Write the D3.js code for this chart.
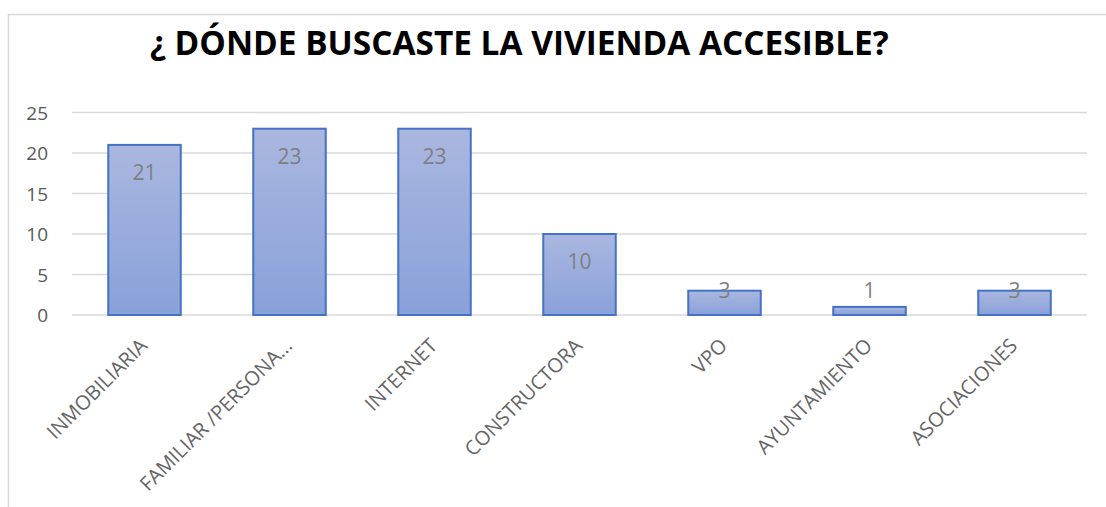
<!DOCTYPE html>
<html>
<head>
<meta charset="utf-8">
<script src="https://cdn.jsdelivr.net/npm/d3@7"></script>
<style>
  html, body { margin: 0; padding: 0; background: #fff; }
  svg { display: block; }
</style>
</head>
<body>
<svg id="chart" width="1106" height="507"></svg>
<script>
const title = "¿ DÓNDE BUSCASTE LA VIVIENDA ACCESIBLE?";
const categories = ["INMOBILIARIA", "FAMILIAR /PERSONA...", "INTERNET", "CONSTRUCTORA", "VPO", "AYUNTAMIENTO", "ASOCIACIONES"];
const values = [21, 23, 23, 10, 3, 1, 3];
const yTicks = [0, 5, 10, 15, 20, 25];

const svg = d3.select("#chart");
const W = 1106, H = 507;
const plot = { left: 72, right: 1087, top: 112.5, bottom: 315 };

// chart frame
svg.append("rect")
  .attr("x", 8.5).attr("y", 14.5)
  .attr("width", W + 20).attr("height", H + 20)
  .attr("fill", "#fff").attr("stroke", "#d9d9d9").attr("stroke-width", 1.5);

const defs = svg.append("defs");
const grad = defs.append("linearGradient")
  .attr("id", "barGrad").attr("x1", 0).attr("y1", 0).attr("x2", 0).attr("y2", 1);
grad.append("stop").attr("offset", "0%").attr("stop-color", "#aab7e0");
grad.append("stop").attr("offset", "100%").attr("stop-color", "#89a1d9");

const x = d3.scaleBand()
  .domain(categories)
  .range([plot.left, plot.right])
  .paddingInner(0.5)
  .paddingOuter(0.25);

const y = d3.scaleLinear()
  .domain([0, 25])
  .range([plot.bottom, plot.top]);

// gridlines
svg.append("g")
  .selectAll("line")
  .data(yTicks)
  .join("line")
  .attr("x1", plot.left).attr("x2", plot.right)
  .attr("y1", d => y(d)).attr("y2", d => y(d))
  .attr("stroke", "#d9d9d9").attr("stroke-width", 1.5);

// y axis labels
const yAxis = d3.axisLeft(y).tickValues(yTicks).tickSize(0).tickPadding(0);
const gy = svg.append("g").attr("transform", `translate(48,0)`).call(yAxis);
gy.select(".domain").remove();
gy.selectAll("text")
  .attr("font-family", "'Open Sans', sans-serif")
  .attr("font-size", 19)
  .attr("fill", "#595959")
  .attr("dy", "0.35em");

// bars
svg.append("g")
  .selectAll("rect")
  .data(values)
  .join("rect")
  .attr("x", (d, i) => x(categories[i]))
  .attr("y", d => y(d))
  .attr("width", x.bandwidth())
  .attr("height", d => y(0) - y(d))
  .attr("fill", "url(#barGrad)")
  .attr("stroke", "#4472c4")
  .attr("stroke-width", 2);

// data labels
svg.append("g")
  .selectAll("text")
  .data(values)
  .join("text")
  .attr("x", (d, i) => x(categories[i]) + x.bandwidth() / 2)
  .attr("y", d => Math.min(y(d) + 35, y(0) - 17))
  .attr("text-anchor", "middle")
  .attr("font-family", "'Open Sans', sans-serif")
  .attr("font-size", 21)
  .attr("fill", "#7f7f7f")
  .text(d => d);

// x axis labels
const xAxis = d3.axisBottom(x).tickSize(0).tickPadding(0);
const gx = svg.append("g").attr("transform", `translate(0,${plot.bottom})`).call(xAxis);
gx.select(".domain").remove();
gx.selectAll("text")
  .attr("font-family", "'Open Sans', sans-serif")
  .attr("font-size", 20)
  .attr("fill", "#666666")
  .attr("text-anchor", "end")
  .attr("dy", 0)
  .attr("transform", "translate(4,32) rotate(-45)");

// title
svg.append("text")
  .attr("x", 150)
  .attr("y", 55)
  .attr("font-family", "'Open Sans', sans-serif")
  .attr("font-weight", "bold")
  .attr("font-size", 33.4)
  .attr("fill", "#000")
  .text(title);
</script>
</body>
</html>
